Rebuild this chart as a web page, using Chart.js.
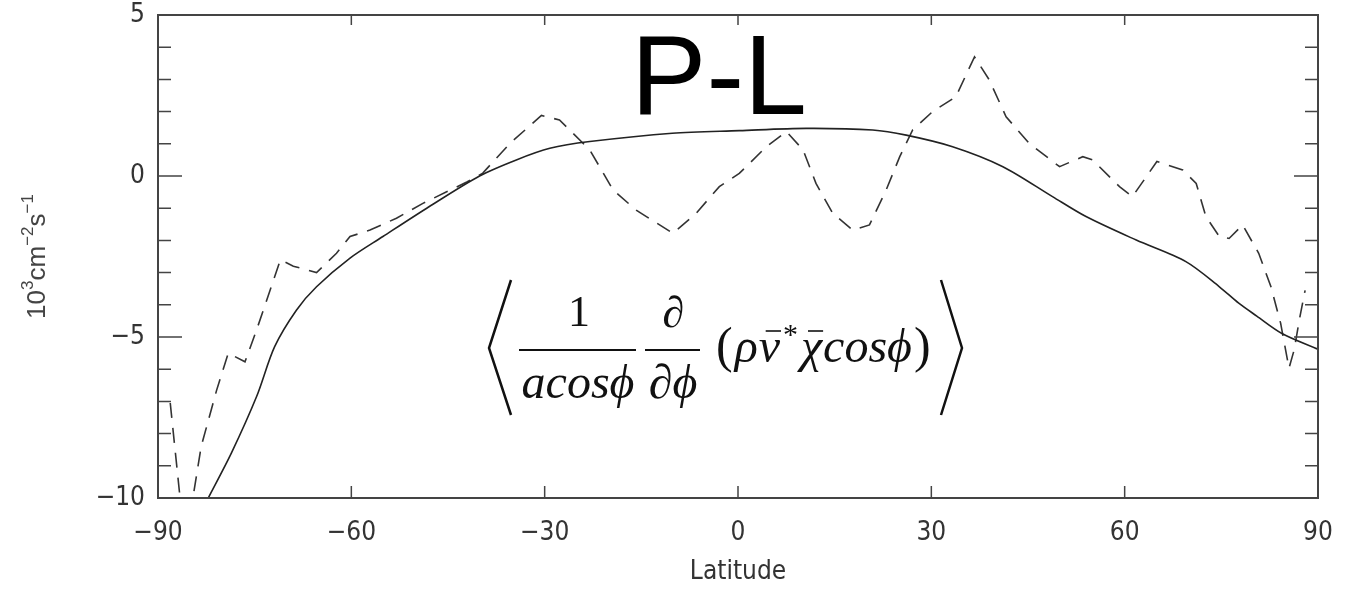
<!DOCTYPE html>
<html lang="en">
<head>
    <meta charset="UTF-8">
    <title>P-L</title>
    <script src="https://cdn.jsdelivr.net/npm/chart.js"></script>
    <style>
        body {
            margin: 0;
            background: #fff;
        }
        #wrap {
            position: relative;
            width: 1367px;
            height: 589px;
        }
    </style>
</head>
<body>
    <div id="wrap"><canvas id="grafico"></canvas></div>

    <script>
        // Datos
        var latSolida = [-84, -82.2, -78.6, -74.7, -71.9, -68.5, -65.4, -60.2, -55.1, -48.3, -40.1, -34.4, -29.2, -23.0, -10.2, 0.2, 10.6, 20.9, 26.1, 33.3, 41.1, 48.8, 54.0, 61.8, 69.5, 74.7, 77.7, 80.5, 84.4, 90];
        var valSolida = [-10.7, -10.0, -8.6, -6.85, -5.3, -4.16, -3.44, -2.55, -1.88, -1.0, 0.0, 0.5, 0.86, 1.07, 1.33, 1.41, 1.48, 1.43, 1.27, 0.91, 0.29, -0.64, -1.26, -1.99, -2.66, -3.44, -3.95, -4.35, -4.89, -5.38];

        var latDiscontinua = [-88.1, -85.8, -83.3, -80.9, -79.1, -76.5, -74.7, -71.0, -69.0, -65.4, -62.3, -60.2, -57.1, -53.0, -48.9, -42.0, -39.6, -35.4, -30.5, -27.7, -23.0, -19.4, -15.8, -10.1, -6.5, -2.9, 0.2, 4.4, 7.5, 10.1, 12.1, 14.7, 17.8, 20.4, 23.0, 25.1, 27.1, 30.2, 33.8, 36.7, 39.0, 41.6, 45.2, 49.9, 53.5, 55.0, 59.2, 61.2, 65.0, 69.0, 71.1, 72.6, 74.7, 76.2, 78.3, 80.8, 82.7, 84.2, 85.5, 86.3, 87.1, 88.0];
        var valDiscontinua = [-7.05, -11.5, -8.4, -6.65, -5.5, -5.77, -4.78, -2.6, -2.8, -3.0, -2.4, -1.88, -1.68, -1.31, -0.85, -0.18, 0.09, 1.01, 1.88, 1.74, 0.81, -0.43, -1.06, -1.78, -1.16, -0.33, 0.08, 0.91, 1.38, 0.81, -0.23, -1.16, -1.68, -1.52, -0.43, 0.6, 1.43, 2.0, 2.46, 3.7, 2.98, 1.84, 1.01, 0.29, 0.6, 0.5, -0.33, -0.64, 0.45, 0.19, -0.23, -1.26, -1.88, -1.94, -1.52, -2.4, -3.44, -4.57, -5.97, -5.4, -4.47, -3.55];

        var ticksX = [-90, -60, -30, 0, 30, 60, 90];
        var ticksY = [-10, -5, 0, 5];

        var fuenteEjes = "'Liberation Sans Narrow', 'DejaVu Sans Condensed', 'Liberation Sans', sans-serif";
        var serif = "'Liberation Serif', 'DejaVu Serif', serif";

        function puntos(xs, ys) {
            return xs.map(function (x, i) { return {x: x, y: ys[i]}; });
        }

        function menos(v) {
            return String(v).replace('-', '\u2212');
        }

        // escribe trozos de texto seguidos: [texto, fuente, desplazamiento vertical, con barra, espacio]
        function escribir(ctx, trozos, x, base) {
            trozos.forEach(function (t) {
                ctx.font = t[1];
                var w = ctx.measureText(t[0]).width;
                ctx.fillText(t[0], x, base + t[2]);
                if (t[3]) {
                    ctx.beginPath();
                    ctx.moveTo(x + 7, base - 31);
                    ctx.lineTo(x + w + 1, base - 31);
                    ctx.stroke();
                }
                x += w + (t[4] || 0);
            });
            return x;
        }

        // marco, marcas interiores y textos sobre el grafico
        var decoracion = {
            id: 'decoracion',
            afterDatasetsDraw: function (chart) {
                var ctx = chart.ctx;
                var a = chart.chartArea;
                var x = chart.scales.x, y = chart.scales.y;
                ctx.save();
                ctx.strokeStyle = '#444';
                ctx.lineWidth = 1.5;
                ctx.beginPath();
                for (var v = -9; v <= 4; v++) {
                    var py = y.getPixelForValue(v);
                    var largo = v % 5 === 0 ? 24 : 13;
                    ctx.moveTo(a.left, py); ctx.lineTo(a.left + largo, py);
                    ctx.moveTo(a.right, py); ctx.lineTo(a.right - largo, py);
                }
                ticksX.slice(1, -1).forEach(function (t) {
                    var px = x.getPixelForValue(t);
                    ctx.moveTo(px, a.bottom); ctx.lineTo(px, a.bottom - 12);
                    ctx.moveTo(px, a.top); ctx.lineTo(px, a.top + 10);
                });
                ctx.stroke();
                ctx.lineWidth = 2;
                ctx.strokeRect(a.left, a.top, a.right - a.left, a.bottom - a.top);

                // titulo del eje y
                ctx.save();
                ctx.translate(38, (a.top + a.bottom) / 2);
                ctx.rotate(-Math.PI / 2);
                ctx.fillStyle = '#444';
                ctx.textAlign = 'left';
                ctx.textBaseline = 'middle';
                var sans = "'Liberation Sans', Arial, sans-serif";
                var partes = [
                    ['10', '26px ' + sans, 0], ['3', '17px ' + sans, -10],
                    ['cm', '26px ' + sans, 0], ['\u22122', '17px ' + sans, -10],
                    ['s', '26px ' + sans, 0], ['\u22121', '17px ' + sans, -10]
                ];
                var total = 0;
                partes.forEach(function (p) { ctx.font = p[1]; total += ctx.measureText(p[0]).width; });
                escribir(ctx, partes, -total / 2, 0);
                ctx.restore();

                // titulo
                ctx.fillStyle = '#000';
                ctx.textAlign = 'center';
                ctx.textBaseline = 'alphabetic';
                ctx.font = "113px 'Liberation Sans', Arial, sans-serif";
                ctx.fillText('P-L', 719, 114);

                // formula
                ctx.strokeStyle = '#111';
                ctx.lineWidth = 2.5;
                ctx.beginPath();
                ctx.moveTo(511, 280); ctx.lineTo(489, 348); ctx.lineTo(511, 415);
                ctx.moveTo(941, 280); ctx.lineTo(962, 348); ctx.lineTo(941, 415);
                ctx.stroke();
                ctx.lineWidth = 1.8;
                ctx.beginPath();
                ctx.moveTo(519, 350); ctx.lineTo(636, 350);
                ctx.moveTo(645, 350); ctx.lineTo(700, 350);
                ctx.stroke();

                ctx.fillStyle = '#111';
                ctx.font = '44px ' + serif;
                ctx.fillText('1', 579, 326);
                ctx.fillText('\u2202', 673, 327);
                ctx.font = 'italic 48px ' + serif;
                ctx.fillText('acos\u03d5', 578, 398);
                ctx.fillText('\u2202\u03d5', 673, 398);

                ctx.textAlign = 'left';
                ctx.lineWidth = 1.6;
                escribir(ctx, [
                    ['(', '50px ' + serif, 0, false, 2],
                    ['\u03c1', 'italic 48px ' + serif, 0, false, 1],
                    ['v', 'italic 48px ' + serif, 0, true, 3],
                    ['*', '30px ' + serif, -18, false, 3],
                    ['\u03c7', 'italic 48px ' + serif, 0, true, 1],
                    ['cos\u03d5', 'italic 48px ' + serif, 0, false, 2],
                    [')', '50px ' + serif, 0, false, 0]
                ], 716, 362);
                ctx.restore();
            }
        };

        var ctx = document.getElementById('grafico').getContext('2d');
        var miGrafico = new Chart(ctx, {
            type: 'line',
            data: {
                datasets: [{
                    data: puntos(latSolida, valSolida),
                    borderColor: '#222',
                    borderWidth: 1.6,
                    pointRadius: 0,
                    tension: 0.3,
                    fill: false
                }, {
                    data: puntos(latDiscontinua, valDiscontinua),
                    borderColor: '#333',
                    borderWidth: 1.6,
                    borderDash: [15, 10],
                    pointRadius: 0,
                    tension: 0,
                    fill: false
                }]
            },
            options: {
                responsive: true,
                maintainAspectRatio: false,
                animation: false,
                layout: { padding: { top: 15, right: 49, left: 0, bottom: 0 } },
                plugins: {
                    legend: { display: false },
                    tooltip: { enabled: false }
                },
                scales: {
                    x: {
                        type: 'linear',
                        min: -90,
                        max: 90,
                        afterFit: function (s) {
                            s.height = 91;
                            s.paddingLeft = 0;
                            s.paddingRight = 0;
                        },
                        afterBuildTicks: function (s) {
                            s.ticks = ticksX.map(function (v) { return {value: v}; });
                        },
                        grid: { display: false, drawTicks: false },
                        border: { display: false },
                        ticks: {
                            padding: 20,
                            color: '#333',
                            font: { family: fuenteEjes, size: 26 },
                            maxRotation: 0,
                            callback: function (v) { return menos(v); }
                        },
                        title: {
                            display: true,
                            text: 'Latitude',
                            color: '#333',
                            font: { family: fuenteEjes, size: 26 },
                            padding: { top: 0, bottom: 1 }
                        }
                    },
                    y: {
                        min: -10,
                        max: 5,
                        afterFit: function (s) {
                            s.width = 158;
                            s.paddingTop = 0;
                            s.paddingBottom = 0;
                        },
                        afterBuildTicks: function (s) {
                            s.ticks = ticksY.map(function (v) { return {value: v}; });
                        },
                        grid: { display: false, drawTicks: false },
                        border: { display: false },
                        ticks: {
                            padding: 13,
                            color: '#333',
                            font: { family: fuenteEjes, size: 26 },
                            callback: function (v) { return menos(v); }
                        }
                    }
                }
            },
            plugins: [decoracion]
        });
    </script>
</body>
</html>
